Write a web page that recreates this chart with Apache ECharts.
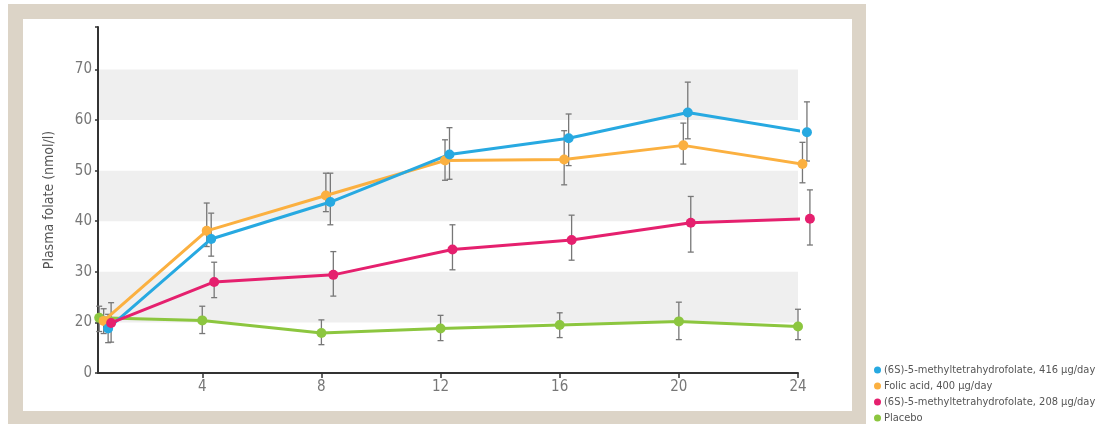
<!DOCTYPE html>
<html>
<head>
<meta charset="utf-8">
<script src="https://cdn.jsdelivr.net/npm/echarts@6/dist/echarts.min.js"></script>
<style>
html,body{margin:0;padding:0;background:#fff;}
#c{width:1096px;height:424px;}
</style>
</head>
<body>
<div id="c"></div>
<script>
// ---- data ----
const weeks = [0, 4, 8, 12, 16, 20, 24];
const xTickLabels = [4, 8, 12, 16, 20, 24];
const yTickLabels = [10, 20, 30, 40, 50, 60, 70]; // 10 is shown as "0" (broken axis)

const seriesNames = [
  '(6S)-5-methyltetrahydrofolate, 416 µg/day',
  'Folic acid, 400 µg/day',
  '(6S)-5-methyltetrahydrofolate, 208 µg/day',
  'Placebo'
];
const mthf416 = [18.8, 36.5, 43.8, 53.2, 56.4, 61.5, 57.6];
const mthf416Low = [16.0, 33.1, 39.3, 48.3, 51.0, 56.3, 51.9];
const mthf416High = [21.6, 41.6, 49.5, 58.5, 61.2, 67.5, 63.6];

const folic400 = [20.3, 38.1, 45.1, 52.0, 52.2, 55.0, 51.3];
const folic400Low = [17.8, 35.0, 41.9, 48.1, 47.2, 51.3, 47.6];
const folic400High = [22.7, 43.6, 49.5, 56.1, 57.9, 59.4, 55.6];

const mthf208 = [19.9, 28.0, 29.4, 34.4, 36.3, 39.7, 40.5];
const mthf208Low = [16.1, 24.9, 25.2, 30.4, 32.3, 33.9, 35.3];
const mthf208High = [23.9, 31.9, 34.0, 39.3, 41.2, 44.9, 46.2];

const placebo = [20.9, 20.4, 17.9, 18.8, 19.5, 20.2, 19.2];
const placeboLow = [18.2, 17.8, 15.6, 16.4, 17.0, 16.6, 16.6];
const placeboHigh = [23.2, 23.2, 20.5, 21.4, 21.9, 24.0, 22.6];

// ---- style ----
const FONT = "'Liberation Sans Narrow','DejaVu Sans Condensed','Roboto',sans-serif";
const colors = ['#27a9e1', '#fbb040', '#e5206e', '#8cc63f'];
const dodge = [0.3, 0.15, 0.4, 0]; // horizontal offset (weeks) so points don't overlap
const baselinePos = 0.54;          // baseline drawn at axis start

function xPos(w, d) { return (w === 0 ? baselinePos : w) + d; }

const sets = [
  [mthf416, mthf416Low, mthf416High],
  [folic400, folic400Low, folic400High],
  [mthf208, mthf208Low, mthf208High],
  [placebo, placeboLow, placeboHigh]
];
const drawOrder = [3, 1, 0, 2];

const series = [];
// error bars
drawOrder.forEach(i => {
  const [v, lo, hi] = sets[i];
  series.push({
    type: 'custom',
    name: seriesNames[i] + ' err',
    z: 1,
    clip: false,
    silent: true,
    data: weeks.map((w, k) => [xPos(w, dodge[i]), lo[k], hi[k]]),
    renderItem: function (params, api) {
      const x = api.value(0);
      const p1 = api.coord([x, api.value(1)]);
      const p2 = api.coord([x, api.value(2)]);
      const cw = 3;
      const st = { stroke: '#777', lineWidth: 1.3 };
      return {
        type: 'group',
        children: [
          { type: 'line', shape: { x1: p1[0], y1: p1[1], x2: p2[0], y2: p2[1] }, style: st },
          { type: 'line', shape: { x1: p1[0] - cw, y1: p1[1], x2: p1[0] + cw, y2: p1[1] }, style: st },
          { type: 'line', shape: { x1: p2[0] - cw, y1: p2[1], x2: p2[0] + cw, y2: p2[1] }, style: st }
        ]
      };
    }
  });
});
// lines
drawOrder.forEach(i => {
  const [v] = sets[i];
  series.push({
    type: 'line',
    name: seriesNames[i],
    z: 3,
    clip: false,
    data: weeks.map((w, k) => [xPos(w, dodge[i]), v[k]]),
    symbol: 'circle',
    symbolSize: 10,
    lineStyle: { width: 3, color: colors[i] },
    itemStyle: { color: colors[i] },
    emphasis: { disabled: true }
  });
});

const chart = echarts.init(document.getElementById('c'), null, { renderer: 'canvas' });
chart.setOption({
  animation: false,
  textStyle: { fontFamily: FONT },
  graphic: [
    { type: 'rect', z: -10, shape: { x: 8, y: 4, width: 858, height: 422 }, style: { fill: '#dcd4c7' } },
    { type: 'rect', z: -9, shape: { x: 23, y: 19, width: 829, height: 392 }, style: { fill: '#ffffff' } }
  ],
  grid: { left: 98, right: 298, top: 27, bottom: 51 },
  legend: {
    orient: 'vertical',
    left: 874,
    top: 364,
    padding: 0,
    itemGap: 4,
    itemWidth: 7,
    itemHeight: 7,
    icon: 'circle',
    data: seriesNames.map((n, i) => ({ name: n, itemStyle: { color: colors[i] } })),
    textStyle: { fontFamily: FONT, fontSize: 11, lineHeight: 12, color: '#555', padding: [0, 0, 0, -2] }
  },
  xAxis: {
    type: 'value',
    min: 0.5,
    max: 24,
    axisLine: { show: true, lineStyle: { color: '#333', width: 2 } },
    axisTick: { show: true, customValues: xTickLabels, length: 5, lineStyle: { color: '#333', width: 1.5 } },
    axisLabel: { customValues: xTickLabels, color: '#777', fontSize: 15, margin: 7, fontFamily: FONT },
    splitLine: { show: false }
  },
  yAxis: {
    type: 'value',
    min: 10,
    max: 78.4,
    interval: 10,
    name: 'Plasma folate (nmol/l)',
    nameLocation: 'middle',
    nameGap: 42,
    nameTextStyle: { color: '#555', fontSize: 14, fontFamily: FONT },
    axisLine: { show: true, lineStyle: { color: '#333', width: 2 } },
    axisTick: { show: true, customValues: yTickLabels.concat([78.4]), length: 3, lineStyle: { color: '#333', width: 1.5 } },
    axisLabel: {
      customValues: yTickLabels,
      color: '#777', fontSize: 15, margin: 6, fontFamily: FONT,
      formatter: v => (v === 10 ? '0' : String(v))
    },
    splitLine: { show: false },
    splitArea: { show: true, areaStyle: { color: ['rgba(255,255,255,0)', '#efefef'] } }
  },
  series: series
});
</script>
</body>
</html>
